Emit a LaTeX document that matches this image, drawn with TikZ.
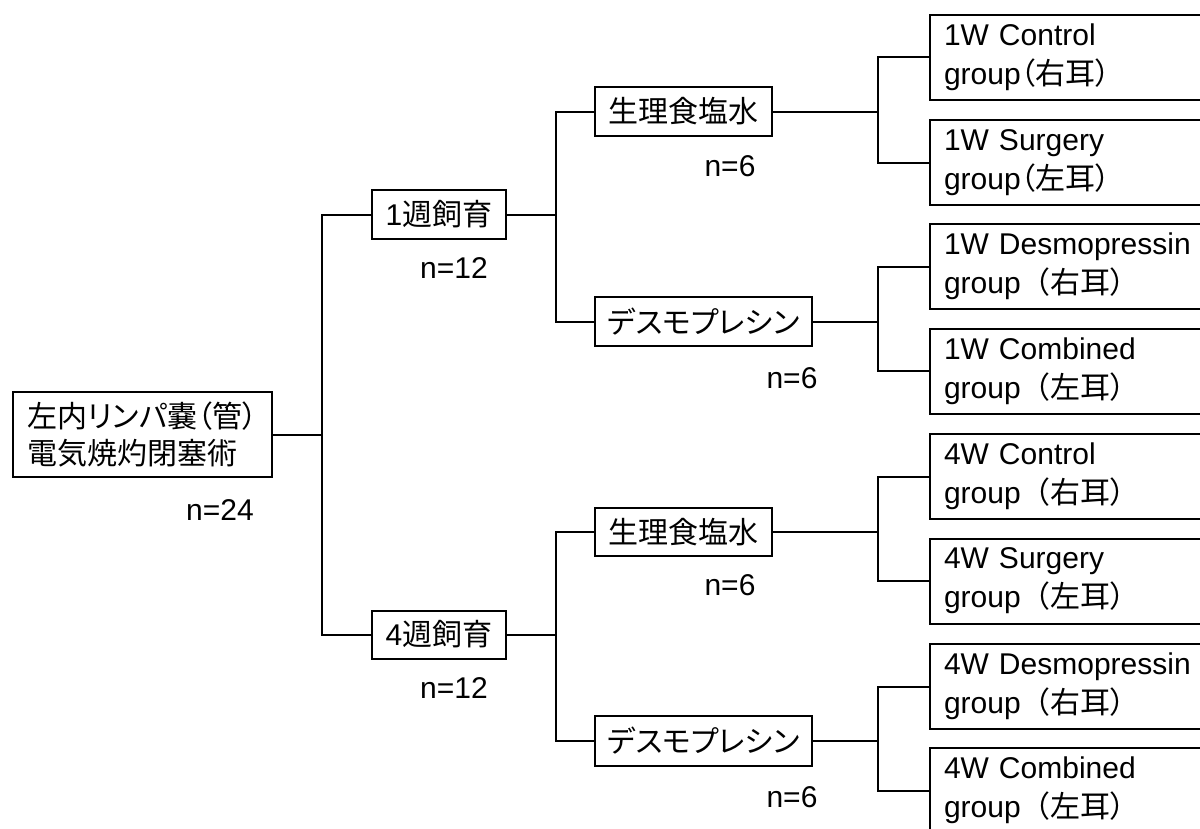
\documentclass[tikz,border=0pt]{standalone}
\usepackage{fontspec}
\setmainfont{Liberation Sans}
\newfontfamily\cjk[RawFeature={+palt}]{Noto Sans CJK JP}
\newfontfamily\cjkf{Noto Sans CJK JP}
\begin{document}
\begin{tikzpicture}[x=1pt,y=-1pt,
  box/.style={draw,line width=2pt,inner sep=0pt,font=\fontsize{30}{37}\selectfont},
  grp/.style={box,anchor=west,text width=272pt,inner xsep=14pt,align=left,minimum height=85pt,font=\fontsize{30}{39}\selectfont},
  lbl/.style={font=\fontsize{30}{36}\selectfont,inner sep=0pt},
  conn/.style={line width=2pt}]
\useasboundingbox (0,0) rectangle (1200,828);
\clip (0,0) rectangle (1200,828);
\fill[white] (0,0) rectangle (1200,828);

% root
\node[box,minimum width=259pt,minimum height=85pt,align=left] (root) at (142.5,434.5)
  {{\cjk 左内リンパ嚢（管）}\\{\cjk 電気焼灼閉塞術}};
\node[lbl] (n24) at (220,510) {n=24};

% weeks
\node[box,minimum width=134pt,minimum height=49pt] (w1) at (439,214.5) {1{\cjk 週飼育}};
\node[lbl] (n12a) at (454,268) {n=12};
\node[box,minimum width=134pt,minimum height=48pt] (w4) at (439,634.5) {4{\cjk 週飼育}};
\node[lbl] (n12b) at (454,688) {n=12};

% treatments
\node[box,minimum width=177pt,minimum height=49pt] (s1) at (683.5,111.5) {{\cjk 生理食塩水}};
\node[lbl] (n6a) at (730,166) {n=6};
\node[box,minimum width=217pt,minimum height=49pt] (d1) at (703.5,321.5) {{\cjk デスモプレシン}};
\node[lbl] (n6b) at (792,378) {n=6};
\node[box,minimum width=177pt,minimum height=48pt] (s4) at (683.5,532) {{\cjk 生理食塩水}};
\node[lbl] (n6c) at (730,585) {n=6};
\node[box,minimum width=217pt,minimum height=50pt] (d4) at (703.5,741) {{\cjk デスモプレシン}};
\node[lbl] (n6d) at (792,797) {n=6};

% groups
\node[grp] (g1) at (929,57) {1W Control\\group{\cjk （右耳）}};
\node[grp] (g2) at (929,162.5) {1W Surgery\\group{\cjk （左耳）}};
\node[grp] (g3) at (929,266.5) {1W Desmopressin\\group{\cjkf （}{\cjk 右耳）}};
\node[grp] (g4) at (929,371) {1W Combined\\group{\cjkf （}{\cjk 左耳）}};
\node[grp] (g5) at (929,476.5) {4W Control\\group{\cjkf （}{\cjk 右耳）}};
\node[grp] (g6) at (929,581) {4W Surgery\\group{\cjkf （}{\cjk 左耳）}};
\node[grp] (g7) at (929,686.5) {4W Desmopressin\\group{\cjkf （}{\cjk 右耳）}};
\node[grp] (g8) at (929,790.5) {4W Combined\\group{\cjkf （}{\cjk 左耳）}};

% junctions
\coordinate (j0) at (322,434.5);
\coordinate (j1) at (556,214.5);
\coordinate (j2) at (556,634.5);
\coordinate (j3) at (878,111.5);
\coordinate (j4) at (878,321.5);
\coordinate (j5) at (878,532);
\coordinate (j6) at (878,741);

\draw[conn] (root.east) -- (j0);
\draw[conn] (j0) |- (w1.west);
\draw[conn] (j0) |- (w4.west);

\draw[conn] (w1.east) -- (j1);
\draw[conn] (j1) |- (s1.west);
\draw[conn] (j1) |- (d1.west);
\draw[conn] (w4.east) -- (j2);
\draw[conn] (j2) |- (s4.west);
\draw[conn] (j2) |- (d4.west);

\draw[conn] (s1.east) -- (j3);
\draw[conn] (j3) |- (g1.west);
\draw[conn] (j3) |- (g2.west);
\draw[conn] (d1.east) -- (j4);
\draw[conn] (j4) |- (g3.west);
\draw[conn] (j4) |- (g4.west);
\draw[conn] (s4.east) -- (j5);
\draw[conn] (j5) |- (g5.west);
\draw[conn] (j5) |- (g6.west);
\draw[conn] (d4.east) -- (j6);
\draw[conn] (j6) |- (g7.west);
\draw[conn] (j6) |- (g8.west);
\end{tikzpicture}
\end{document}
